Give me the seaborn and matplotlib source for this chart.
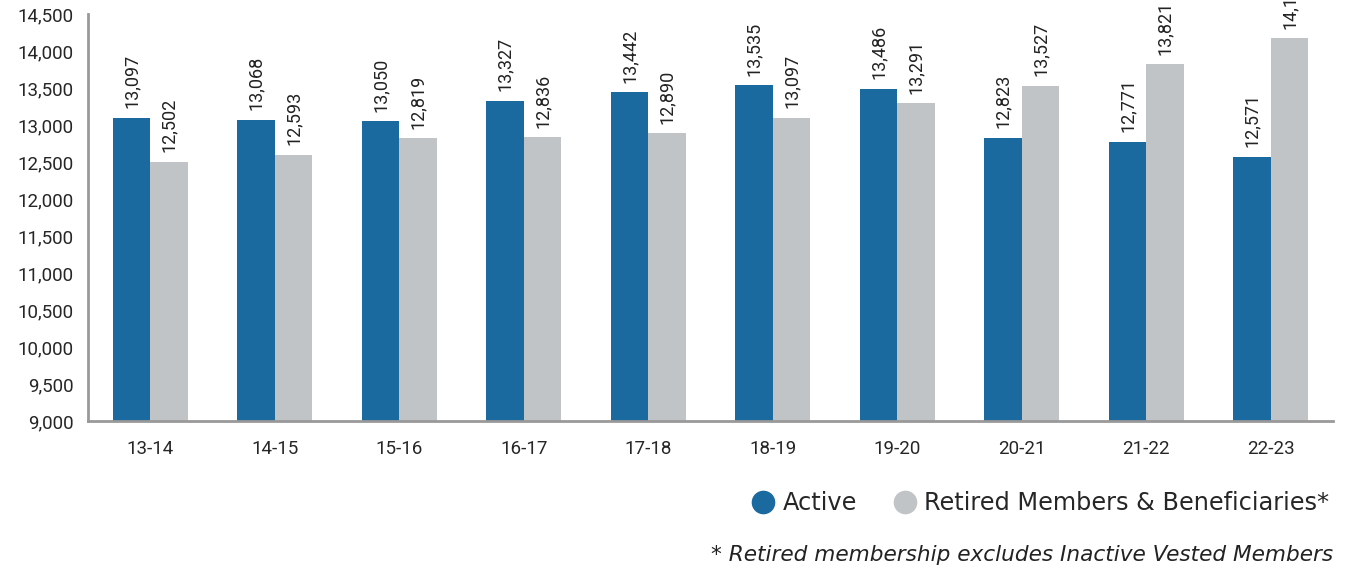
import matplotlib
matplotlib.use("Agg")
import matplotlib.pyplot as plt
from matplotlib.lines import Line2D
import seaborn as sns
import pandas as pd

years = ["13-14", "14-15", "15-16", "16-17", "17-18", "18-19", "19-20", "20-21", "21-22", "22-23"]
active = [13097, 13068, 13050, 13327, 13442, 13535, 13486, 12823, 12771, 12571]
retired = [12502, 12593, 12819, 12836, 12890, 13097, 13291, 13527, 13821, 14170]
series = ["Active", "Retired Members & Beneficiaries*"]
colors = ["#1a6aa0", "#c1c4c7"]

df = pd.DataFrame({
    "year": years * 2,
    "group": [series[0]] * len(years) + [series[1]] * len(years),
    "count": active + retired,
})

sns.set_style("white")
plt.rcParams["font.family"] = ["Roboto", "DejaVu Sans"]

fig = plt.figure(figsize=(13.51, 5.71), dpi=100)
ax = fig.add_axes([0.0651, 0.2627, 0.9216, 0.7128])

sns.barplot(data=df, x="year", y="count", hue="group", palette=colors,
            width=0.6, gap=0, saturation=1, linewidth=0, ax=ax, legend=False)

ax.set_ylim(9000, 14500)
ax.set_xlim(-0.5, 9.5)
ax.set_yticks(range(9000, 14501, 500))
ax.set_yticklabels([f"{v:,}" for v in range(9000, 14501, 500)], fontsize=13.5)
ax.set_xticks(range(len(years)))
ax.set_xticklabels(years, fontsize=13.5)
ax.set_xticks([i - 0.5 for i in range(len(years) + 1)], minor=True)
ax.tick_params(axis="x", which="major", length=0, pad=14)
ax.tick_params(axis="x", which="minor", length=8, width=2, color="#999999", direction="out")
ax.tick_params(axis="y", length=7, width=2, color="#999999", pad=3)
ax.set_xlabel("")
ax.set_ylabel("")

for s in ["top", "right"]:
    ax.spines[s].set_visible(False)
for s in ["left", "bottom"]:
    ax.spines[s].set_color("#999999")
    ax.spines[s].set_linewidth(2)

# value labels, rotated above each bar
for cont in ax.containers:
    for bar in cont:
        h = bar.get_height()
        ax.text(bar.get_x() + bar.get_width() / 2, h + 130, f"{h:,.0f}",
                rotation=90, ha="center", va="bottom", fontsize=13,
                color="#222222", clip_on=False)

handles = [Line2D([0], [0], marker="o", linestyle="", markersize=16,
                  markerfacecolor=c, markeredgecolor=c) for c in colors]
fig.legend(handles, series, loc="center right", bbox_to_anchor=(1.0, 0.119),
           ncol=2, frameon=False, handletextpad=0.3,
           columnspacing=1.5, handlelength=1.0, prop={"family": "DejaVu Sans", "size": 17.3})

fig.text(0.987, 0.028, "* Retired membership excludes Inactive Vested Members",
         ha="right", va="center", fontsize=15.6, style="italic", color="#222222",
         family="DejaVu Sans")

fig.savefig("out.png", dpi=100)
